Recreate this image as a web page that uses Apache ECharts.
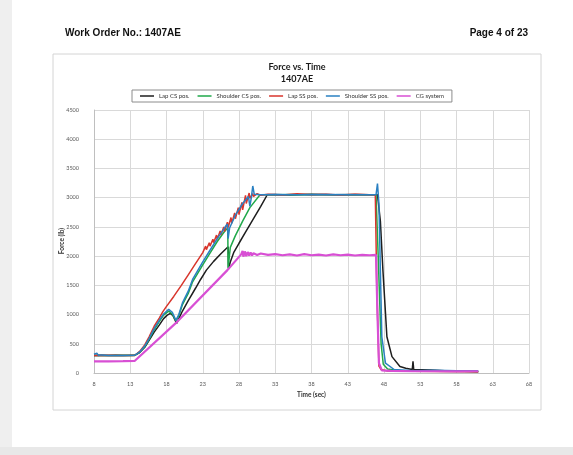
<!DOCTYPE html>
<html><head><meta charset="utf-8">
<script src="https://cdn.jsdelivr.net/npm/echarts@6/dist/echarts.min.js"></script>
<style>html,body{margin:0;padding:0;background:#fff}#c{width:573px;height:455px}</style>
</head><body><div id="c"></div>
<script>
const seriesNames = ['Lap CS pos.', 'Shoulder CS pos.', 'Lap SS pos.', 'Shoulder SS pos.', 'CG system'];
const xTicks = [8, 13, 18, 23, 28, 33, 38, 43, 48, 53, 58, 63, 68];
const yTicks = [0, 500, 1000, 1500, 2000, 2500, 3000, 3500, 4000, 4500];

const lapCS = [[8,300],[9,305],[10,300],[11,302],[12,300],[13.6,302],[14.3,350],[15,440],[15.6,560],[16.3,700],[17,820],[17.6,930],[18.1,990],[18.55,1020],[18.9,980],[19.2,900],[19.4,850],[19.7,930],[20.2,1060],[21,1240],[22,1450],[22.7,1600],[23.5,1760],[24.5,1910],[25.5,2040],[26.5,2160],[26.55,1780],[26.8,1900],[27.3,2070],[28,2220],[29,2430],[30,2640],[31,2850],[31.9,3050],[33,3055],[35,3045],[38,3060],[41,3050],[44,3055],[46,3050],[47.1,3050],[47.5,2600],[47.85,1760],[48.4,620],[49.1,280],[50.2,110],[51,80],[51.9,60],[52,200],[52.1,60],[54.4,50],[57,35],[59,28],[61,20]];

const shoulderCS = [[8,300],[10,300],[12,302],[13.6,300],[14.3,355],[15,450],[15.6,575],[16.3,740],[17,880],[17.6,990],[18.3,1060],[18.8,1010],[19.3,890],[19.45,865],[19.7,980],[20.2,1170],[21,1360],[21.6,1560],[23,1850],[24,2050],[25,2250],[26,2420],[26.45,2480],[26.5,1800],[26.8,2150],[27.5,2350],[28.5,2600],[29.5,2830],[30.9,3050],[33,3050],[36,3055],[40,3050],[44,3050],[46.9,3050],[47.2,2000],[47.6,500],[47.9,150],[48.5,70],[50,40],[55,30],[61,25]];

const lapSS = [[8,300],[10,302],[12,300],[13.6,300],[14.3,370],[15,480],[15.6,620],[16.3,800],[17,940],[17.5,1050],[18,1140],[19,1310],[20,1490],[21,1680],[22,1870],[23,2060],[23.4,2170],[23.5,2110],[23.9,2230],[24,2170],[24.4,2290],[24.5,2230],[24.9,2360],[25,2290],[25.4,2430],[25.5,2360],[25.9,2500],[26,2420],[26.4,2580],[26.5,2490],[26.9,2660],[27,2560],[27.4,2740],[27.5,2640],[27.9,2830],[28,2710],[28.4,2920],[28.5,2790],[28.9,3040],[29,2900],[29.4,3080],[29.5,2990],[29.9,3070],[30,3020],[30.5,3070],[31,3040],[32,3060],[34,3045],[36,3065],[38,3050],[40,3060],[42,3045],[44,3060],[46,3050],[46.8,3050],[47,1500],[47.3,120],[47.6,60],[48.5,35],[52,30],[56,25],[61,22]];

const shoulderSS = [[8,320],[8.2,290],[8.4,340],[8.6,300],[8.8,330],[9,310],[9.5,305],[10,300],[12,300],[13.6,302],[14.3,360],[15,460],[15.6,590],[16.3,760],[17,900],[17.6,1010],[18.3,1090],[18.8,1040],[19.3,900],[19.45,870],[19.7,1000],[20.2,1200],[21,1400],[21.6,1600],[23,1900],[24,2100],[25,2300],[26,2480],[26.4,2550],[26.5,2300],[26.7,2480],[27.5,2700],[28.5,2900],[29.3,3020],[29.5,2850],[29.7,3000],[29.9,3200],[30.1,3060],[31,3050],[33,3055],[36,3050],[40,3055],[44,3050],[46.9,3050],[47.1,3240],[47.3,2900],[47.5,1760],[47.7,620],[48.2,170],[49.4,60],[52,40],[55,45],[58,40],[61,38]];

const cgSystem = [[8,200],[10,200],[12,202],[13.6,205],[19.5,880],[26.4,1760],[28.3,2030],[28.5,2090],[28.6,1990],[28.8,2080],[29,2000],[29.2,2070],[29.4,2010],[29.6,2060],[29.8,2010],[30,2050],[30.5,2020],[31,2045],[32,2020],[33,2035],[34,2015],[35,2030],[36,2010],[37,2035],[38,2015],[39,2025],[40,2010],[41,2030],[42,2015],[43,2025],[44,2010],[45,2020],[46,2015],[46.9,2020],[47.1,1000],[47.3,170],[47.7,45],[49,35],[52,30],[55,30],[58,28],[61,30]];

const seriesData = [lapCS, shoulderCS, lapSS, shoulderSS, cgSystem];
const colors = ['#1e1e1e', '#1fa84a', '#d8352c', '#2a80c2', '#d84fd4'];
const widths = [1.5, 1.5, 1.5, 1.5, 2.2];

const chart = echarts.init(document.getElementById('c'), null, {renderer: 'canvas'});
const font = 'Lato, "Open Sans", sans-serif';
chart.setOption({
  animation: false,
  backgroundColor: '#ffffff',
  color: colors,
  legend: {
    data: seriesNames,
    top: 90, left: 132,
    icon: 'rect',
    itemWidth: 14, itemHeight: 1.5, itemGap: 8,
    padding: [3, 8],
    borderColor: '#8c8c8c', borderWidth: 1,
    textStyle: {fontFamily: font, fontSize: 6, color: '#333'}
  },
  grid: {left: 94, right: 44, top: 110, bottom: 82},
  xAxis: {
    type: 'value', min: xTicks[0], max: xTicks[xTicks.length - 1], interval: 5,
    name: 'Time (sec)', nameLocation: 'middle', nameGap: 17,
    nameTextStyle: {fontFamily: font, fontSize: 6.5, fontWeight: 'bold', color: '#333'},
    axisLine: {lineStyle: {color: '#bfbfbf'}},
    axisTick: {show: false},
    axisLabel: {fontFamily: font, fontSize: 5.5, color: '#595959', margin: 8, formatter: v => String(v)},
    splitLine: {lineStyle: {color: '#d9d9d9'}}
  },
  yAxis: {
    type: 'value', min: yTicks[0], max: yTicks[yTicks.length - 1], interval: 500,
    axisLine: {show: true, lineStyle: {color: '#bfbfbf'}},
    axisTick: {show: false},
    axisLabel: {fontFamily: font, fontSize: 5.5, color: '#595959', margin: 15, formatter: v => String(v)},
    splitLine: {lineStyle: {color: '#d9d9d9'}}
  },
  graphic: [
    {type: 'rect', shape: {x: 0, y: 0, width: 12, height: 455}, style: {fill: '#efefef'}, silent: true},
    {type: 'rect', shape: {x: 0, y: 447, width: 573, height: 8}, style: {fill: '#e8e8e8'}, silent: true},
    {type: 'rect', shape: {x: 53, y: 54, width: 488, height: 356}, style: {fill: 'none', stroke: '#d4d4d4', lineWidth: 1}, silent: true},
    {type: 'text', left: 65, top: 28, style: {text: 'Work Order No.: 1407AE', font: 'bold 10px "Liberation Sans", Arial, sans-serif', fill: '#111'}},
    {type: 'text', right: 45, top: 28, style: {text: 'Page 4 of 23', font: 'bold 10px "Liberation Sans", Arial, sans-serif', fill: '#111'}},
    {type: 'text', x: 297, y: 67, style: {text: 'Force vs. Time', font: 'bold 9px Lato, sans-serif', fill: '#1a1a1a', textAlign: 'center', textVerticalAlign: 'middle'}},
    {type: 'text', x: 297, y: 79, style: {text: '1407AE', font: 'bold 9px Lato, sans-serif', fill: '#1a1a1a', textAlign: 'center', textVerticalAlign: 'middle'}},
    {type: 'text', x: 62, y: 241, rotation: Math.PI / 2, style: {text: 'Force (lb)', font: 'bold 6.5px Lato, sans-serif', fill: '#333', textAlign: 'center', textVerticalAlign: 'middle'}}
  ],
  series: seriesData.map((d, i) => ({
    name: seriesNames[i], type: 'line', data: d, symbol: 'none',
    lineStyle: {width: widths[i], color: colors[i]}, itemStyle: {color: colors[i]}
  }))
});
</script></body></html>
